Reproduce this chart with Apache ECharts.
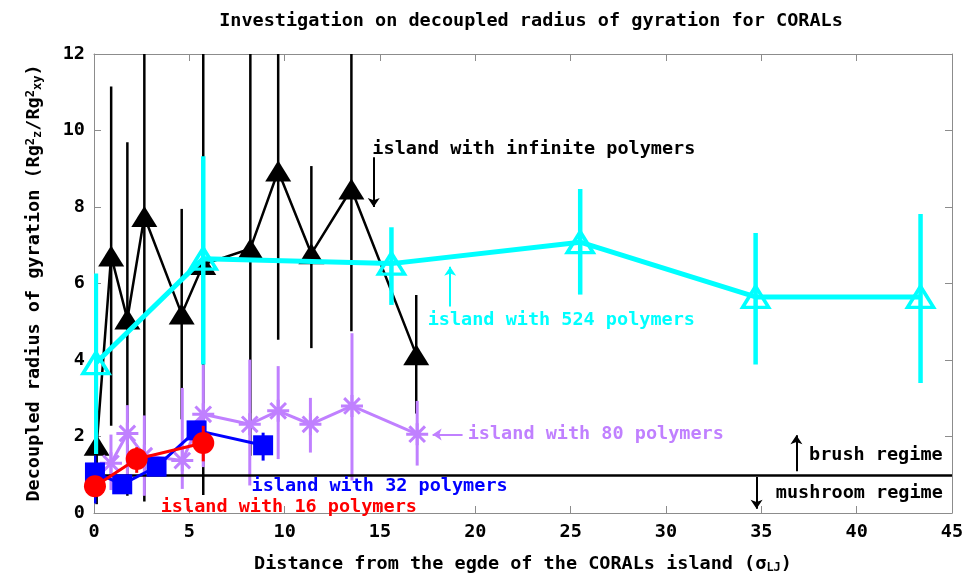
<!DOCTYPE html>
<html>
<head>
<meta charset="utf-8">
<script src="https://cdn.jsdelivr.net/npm/echarts@6/dist/echarts.min.js"></script>
<style>
  html, body { margin: 0; padding: 0; background: #ffffff; }
  #chart { width: 968px; height: 579px; }
</style>
</head>
<body>
<div id="chart"></div>
<script>
// Distance from the island edge (sigma_LJ), Rg_z^2/Rg_xy^2 ratio and error-bar bounds
const infX    = [0.14, 0.9, 1.75, 2.64, 4.6, 5.73, 8.2, 9.66, 11.4, 13.5, 16.9];
const infY    = [1.77, 6.72, 5.07, 7.75, 5.2, 6.5, 6.91, 8.94, 6.78, 8.47, 4.14];
const infLow  = [0.23, 2.28, 0.45, 0.3, 2.45, 0.47, 1.5, 4.53, 4.31, 4.75, 2.6];
const infHigh = [3.3, 11.15, 9.69, 15.0, 7.95, 12.5, 12.3, 13.3, 9.07, 12.2, 5.70];

const p80X    = [0.89, 1.75, 2.64, 4.63, 5.73, 8.17, 9.66, 11.35, 13.53, 16.95];
const p80Y    = [1.3, 2.08, 1.5, 1.37, 2.58, 2.32, 2.67, 2.32, 2.80, 2.06];
const p80Low  = [0.6, 0.68, 0.45, 0.63, 1.2, 0.72, 1.41, 1.58, 0.85, 1.24];
const p80High = [2.05, 2.82, 2.55, 3.27, 3.88, 4.01, 3.84, 3.01, 4.70, 2.93];

const p524X    = [0.1, 5.73, 15.6, 25.5, 34.7, 43.35];
const p524Y    = [3.92, 6.65, 6.52, 7.08, 5.65, 5.65];
const p524Low  = [1.54, 3.88, 5.44, 5.71, 3.88, 3.40];
const p524High = [6.26, 9.33, 7.47, 8.47, 7.32, 7.82];

const p32X    = [0.05, 1.48, 3.28, 5.38, 8.87];
const p32Y    = [1.06, 0.75, 1.21, 2.16, 1.77];
const p32Low  = [0.25, 0.6, 1.1, 1.95, 1.37];
const p32High = [1.5, 0.9, 1.35, 2.35, 2.1];

const p16X    = [0.05, 2.24, 5.73];
const p16Y    = [0.70, 1.41, 1.83];
const p16Low  = [0.45, 1.05, 1.35];
const p16High = [0.95, 1.72, 2.28];

// Brush / mushroom boundary
const regimeY = 1;

const xTicks = { min: 0, max: 45, step: 5 };
const yTicks = { min: 0, max: 12, step: 2 };

const FONT = '"DejaVu Sans Mono", "Liberation Mono", monospace';
const FS = 18.5;
const AXIS_GREY = '#8c8c8c';

const zip = (xs, ys) => xs.map((x, i) => [x, ys[i]]);

function errorBars(xs, lows, highs, color, width, z) {
  return {
    type: 'custom',
    z: z,
    silent: true,
    clip: true,
    encode: { x: 0, y: [1, 2] },
    data: xs.map((x, i) => [x, lows[i], highs[i]]),
    renderItem: function (params, api) {
      const a = api.coord([api.value(0), api.value(1)]);
      const b = api.coord([api.value(0), api.value(2)]);
      return {
        type: 'line',
        shape: { x1: a[0], y1: a[1], x2: b[0], y2: b[1] },
        style: { stroke: color, lineWidth: width }
      };
    }
  };
}

function curve(xs, ys, color, width, symbol, size, itemStyle, z) {
  return {
    type: 'line',
    z: z,
    silent: true,
    clip: false,
    data: zip(xs, ys),
    symbol: symbol,
    symbolSize: size,
    showAllSymbol: true,
    lineStyle: { color: color, width: width },
    itemStyle: itemStyle,
    emphasis: { disabled: true }
  };
}

function note(x, y, text, color) {
  return {
    type: 'scatter',
    z: 20,
    silent: true,
    symbolSize: 0,
    itemStyle: { opacity: 1 },
    data: [[x, y]],
    label: {
      show: true,
      position: 'right',
      distance: 0,
      opacity: 1,
      formatter: text,
      color: color,
      fontFamily: FONT,
      fontWeight: 'bold',
      fontSize: FS
    }
  };
}

function arrow(from, to, color) {
  return {
    type: 'lines',
    coordinateSystem: 'cartesian2d',
    z: 20,
    silent: true,
    symbol: ['none', 'arrow'],
    symbolSize: 9,
    lineStyle: { color: color, width: 2, opacity: 1 },
    data: [{ coords: [from, to] }]
  };
}

const asterisk = 'path://M10 0 L10 20 M0 10 L20 10 M2.9 2.9 L17.1 17.1 M2.9 17.1 L17.1 2.9';

const axisLabelStyle = {
  color: '#000', fontFamily: FONT, fontWeight: 'bold', fontSize: FS
};

const option = {
  animation: false,
  backgroundColor: '#ffffff',
  title: {
    text: 'Investigation on decoupled radius of gyration for CORALs',
    left: 526,
    top: 7,
    textAlign: 'center',
    textStyle: { color: '#000', fontFamily: FONT, fontWeight: 'bold', fontSize: FS }
  },
  grid: { left: 94, right: 16, top: 54, bottom: 63, containLabel: false },
  xAxis: [
    {
      type: 'value', min: xTicks.min, max: xTicks.max, interval: xTicks.step,
      axisLine: { onZero: false, lineStyle: { color: AXIS_GREY, width: 1 } },
      axisTick: { inside: true, length: 7, lineStyle: { color: AXIS_GREY } },
      axisLabel: Object.assign({ margin: 10 }, axisLabelStyle),
      splitLine: { show: false },
      name: 'Distance from the egde of the CORALs island (σ{sub|LJ})',
      nameLocation: 'middle',
      nameGap: 41,
      nameTextStyle: {
        color: '#000', fontFamily: FONT, fontWeight: 'bold', fontSize: FS,
        rich: { sub: { fontFamily: FONT, fontWeight: 'bold', fontSize: 12, verticalAlign: 'bottom', padding: [8, 0, 0, 0] } }
      }
    },
    {
      type: 'value', position: 'top', min: xTicks.min, max: xTicks.max, interval: xTicks.step,
      axisLine: { onZero: false, lineStyle: { color: AXIS_GREY, width: 1 } },
      axisTick: { inside: true, length: 7, lineStyle: { color: AXIS_GREY } },
      axisLabel: { show: false },
      splitLine: { show: false }
    }
  ],
  yAxis: [
    {
      type: 'value', min: yTicks.min, max: yTicks.max, interval: yTicks.step,
      axisLine: { show: true, onZero: false, lineStyle: { color: AXIS_GREY, width: 1 } },
      axisTick: { show: true, inside: true, length: 7, lineStyle: { color: AXIS_GREY } },
      axisLabel: Object.assign({ margin: 9 }, axisLabelStyle),
      splitLine: { show: false }
    },
    {
      type: 'value', position: 'right', min: yTicks.min, max: yTicks.max, interval: yTicks.step,
      axisLine: { show: true, onZero: false, lineStyle: { color: AXIS_GREY, width: 1 } },
      axisTick: { show: true, inside: true, length: 7, lineStyle: { color: AXIS_GREY } },
      axisLabel: { show: false },
      splitLine: { show: false }
    }
  ],
  graphic: [
    {
      type: 'text',
      x: 34, y: 283,
      rotation: Math.PI / 2,
      style: {
        text: 'Decoupled radius of gyration (Rg{sup|2}{sub|z}/Rg{sup|2}{sub|xy})',
        fill: '#000',
        font: 'bold ' + FS + 'px ' + FONT,
        align: 'center',
        verticalAlign: 'middle',
        rich: {
          sup: { fontFamily: FONT, fontWeight: 'bold', fontSize: 12, verticalAlign: 'top', fill: '#000' },
          sub: { fontFamily: FONT, fontWeight: 'bold', fontSize: 12, verticalAlign: 'bottom', fill: '#000' }
        }
      }
    }
  ],
  series: [
    // island with infinite polymers
    errorBars(infX, infLow, infHigh, '#000000', 2.5, 2),
    curve(infX, infY, '#000000', 2.5, 'triangle', [26, 21], { color: '#000000' }, 3),
    // island with 80 polymers
    errorBars(p80X, p80Low, p80High, '#c080ff', 3, 4),
    curve(p80X, p80Y, '#c080ff', 3, asterisk, 22,
      { color: 'none', borderColor: '#c080ff', borderWidth: 3 }, 5),
    // island with 524 polymers
    errorBars(p524X, p524Low, p524High, '#00ffff', 4.5, 6),
    curve(p524X, p524Y, '#00ffff', 5, 'triangle', [26, 21],
      { color: 'rgba(255,255,255,0)', borderColor: '#00ffff', borderWidth: 3.5 }, 7),
    // brush / mushroom boundary
    {
      type: 'lines', coordinateSystem: 'cartesian2d', z: 8, silent: true,
      lineStyle: { color: '#000', width: 2.5, opacity: 1 },
      data: [{ coords: [[xTicks.min, regimeY], [xTicks.max, regimeY]] }]
    },
    // island with 32 polymers
    errorBars(p32X, p32Low, p32High, '#0000ff', 3, 9),
    curve(p32X, p32Y, '#0000ff', 3, 'rect', 20, { color: '#0000ff' }, 10),
    // island with 16 polymers
    errorBars(p16X, p16Low, p16High, '#ff0000', 3, 11),
    curve(p16X, p16Y, '#ff0000', 3, 'circle', 22, { color: '#ff0000' }, 12),

    // annotations
    note(14.6, 9.5, 'island with infinite polymers', '#000000'),
    arrow([14.67, 9.3], [14.67, 8.0], '#000000'),
    note(17.5, 5.04, 'island with 524 polymers', '#00ffff'),
    arrow([18.68, 5.4], [18.68, 6.44], '#00ffff'),
    note(19.6, 2.05, 'island with 80 polymers', '#c080ff'),
    arrow([19.33, 2.05], [17.76, 2.05], '#c080ff'),
    note(8.26, 0.7, 'island with 32 polymers', '#0000ff'),
    note(3.5, 0.16, 'island with 16 polymers', '#ff0000'),
    note(37.5, 1.52, 'brush regime', '#000000'),
    arrow([36.84, 1.09], [36.84, 2.03], '#000000'),
    note(35.76, 0.52, 'mushroom regime', '#000000'),
    arrow([34.75, 0.94], [34.75, 0.11], '#000000')
  ]
};

const chart = echarts.init(document.getElementById('chart'), null, { renderer: 'canvas' });
chart.setOption(option);
</script>
</body>
</html>
